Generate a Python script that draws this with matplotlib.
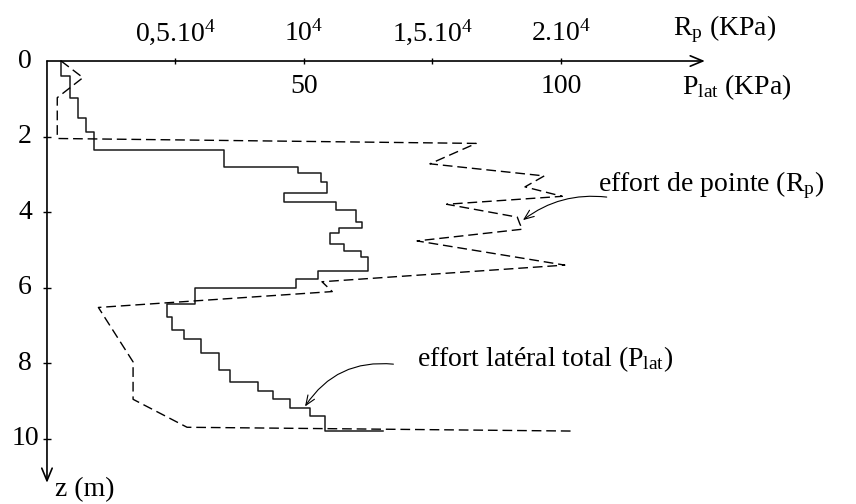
import numpy as np
import matplotlib.pyplot as plt

plt.rcParams['font.family'] = ['Liberation Serif', 'DejaVu Serif']
plt.rcParams['mathtext.fontset'] = 'custom'
plt.rcParams['mathtext.rm'] = 'Liberation Serif'
plt.rcParams['mathtext.it'] = 'Liberation Serif:italic'

# effort latéral total : valeur par palier (KPa) entre les profondeurs z (m)
z_lat = [0, 0.39, 0.97, 1.52, 1.89, 2.35, 2.81, 2.96, 3.19, 3.48, 3.72, 3.94,
         4.27, 4.42, 4.56, 4.85, 5.02, 5.18, 5.55, 5.78, 6.00, 6.44, 6.76,
         7.12, 7.36, 7.73, 8.17, 8.50, 8.73, 8.95, 9.18, 9.39, 9.78]
p_lat = [2.7, 4.5, 6.0, 7.6, 9.2, 34.4, 48.9, 53.4, 54.5, 46.2, 56.2, 60.2,
         61.3, 56.9, 55.1, 57.8, 61.1, 62.4, 52.8, 48.4, 28.8, 23.3, 24.4,
         26.6, 30.0, 33.5, 35.6, 41.1, 44.0, 47.3, 51.2, 54.0]
p_lat_fin = 65.4

# effort de pointe (KPa) en fonction de z (m)
z_rp = [0, 0.44, 0.97, 2.05, 2.18, 2.72, 3.04, 3.33, 3.58, 3.79, 4.13, 4.31,
        4.45, 4.76, 5.40, 5.84, 6.10, 6.52, 7.96, 8.95, 9.69, 9.79]
r_p = [550, 1400, 400, 400, 16700, 14900, 19350, 18600, 20050, 15550, 18300,
       18400, 18500, 14400, 20150, 10700, 11100, 2000, 3350, 3350, 5450, 20400]

rp_ticks = [5000, 10000, 15000, 20000]
rp_labels = ['0,5.10$^{4}$', '10$^{4}$', '1,5.10$^{4}$', '2.10$^{4}$']
plat_ticks = [50, 100]
z_ticks = [0, 2, 4, 6, 8, 10]

FS = 20

fig = plt.figure(figsize=(8.56, 5.04), dpi=100)
ax = fig.add_axes([0, 0, 1, 1])
ax.set_xlim(-9.14, 157.4)
ax.set_ylim(11.72, -1.614)
ax.axis('off')
ax2 = ax.twiny()
ax2.set_xlim(-9.14 * 200, 157.4 * 200)
ax2.axis('off')

# axes avec fleches
arrow = dict(arrowstyle='->,head_length=0.6,head_width=0.25', lw=1.2,
             color='black', shrinkA=0, shrinkB=0, mutation_scale=15)
ax.annotate('', xy=(128, 0), xytext=(0, 0), arrowprops=arrow)
ax.annotate('', xy=(0, 11.16), xytext=(0, 0), arrowprops=arrow)
ax2.plot(rp_ticks, [0] * len(rp_ticks), ls='none', marker='|', ms=5,
         mew=1.0, color='black')
ax.plot([0] * 5, z_ticks[1:], ls='none', marker='_', ms=6, mew=1.0,
        color='black')

# courbe P_lat en escalier
xs = list(np.repeat(p_lat, 2)) + [p_lat_fin]
ys = [z_lat[0]] + list(np.repeat(z_lat[1:], 2))
ax.plot(xs, ys, color='#1a1a1a', lw=1.1)

# courbe R_p
ax2.plot(r_p, z_rp, color='black', lw=1.0, dashes=(7, 3.5))

# graduations
for r, lab in zip(rp_ticks, rp_labels):
    ax2.text(r, -0.54, lab, ha='center', va='baseline', fontsize=FS)
for p in plat_ticks:
    ax.text(p, 0.855, str(p), ha='center', va='baseline', fontsize=FS)
for z in z_ticks:
    ax.text(-4.28, z, str(z), ha='center', va='center', fontsize=FS)

ax.text(121.8, -0.69, r'R$_{\mathrm{p}}$ (KPa)', ha='left', va='baseline',
        fontsize=FS)
ax.text(123.5, 0.87, r'P$_{\mathrm{lat}}$ (KPa)', ha='left', va='baseline',
        fontsize=FS)
ax.text(1.6, 11.52, 'z (m)', ha='left', va='baseline', fontsize=FS)

# annotations
thin = dict(arrowstyle='->,head_length=0.5,head_width=0.2', lw=0.8,
            color='black', shrinkA=0, shrinkB=0, mutation_scale=14,
            connectionstyle='arc3,rad=0.2')
ax.annotate('', xy=(92.6, 4.21), xytext=(108.9, 3.6), arrowprops=thin)
ax.text(107.2, 3.45, r'effort de pointe (R$_{\mathrm{p}}$)', ha='left',
        va='baseline', fontsize=FS)
thin2 = dict(thin, connectionstyle='arc3,rad=0.3')
ax.annotate('', xy=(50.2, 9.14), xytext=(67.4, 8.02), arrowprops=thin2)
ax.text(72.0, 8.07, r'effort latéral total (P$_{\mathrm{lat}}$)', ha='left',
        va='baseline', fontsize=FS)

fig.savefig('out.png', dpi=100)
